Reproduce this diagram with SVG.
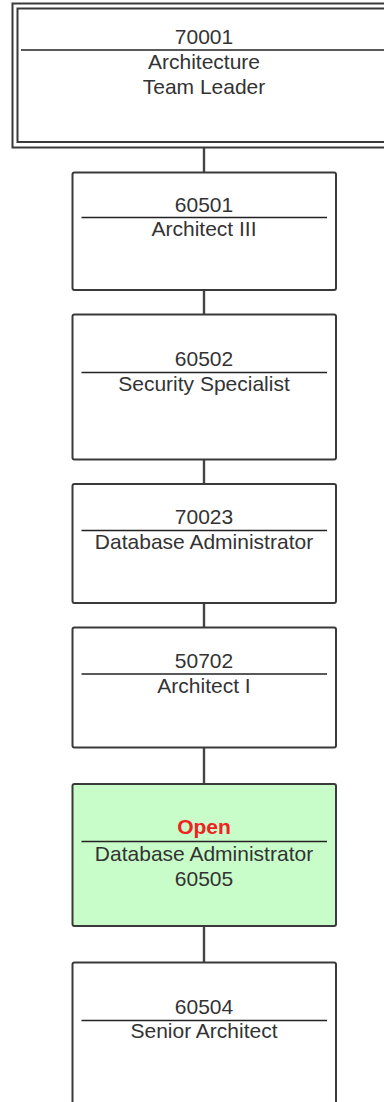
<svg xmlns="http://www.w3.org/2000/svg" width="384" height="1102" viewBox="0 0 384 1102">
<style>
.box{fill:#fff;stroke:#3a3a3a;stroke-width:2}
.green{fill:#c8fcc8}
.div{stroke:#222;stroke-width:1.6}
.con{stroke:#444;stroke-width:2.4;fill:none}
text{font-family:"Liberation Sans",Arial,sans-serif;font-size:21px;fill:#333;text-anchor:middle}
.open{fill:#ee2222;font-weight:bold}
</style>
<rect width="384" height="1102" fill="#fff"/>
<g id="connectors">
<line class="con" x1="204" y1="147" x2="204" y2="173"/>
<line class="con" x1="204" y1="290" x2="204" y2="315"/>
<line class="con" x1="204" y1="459" x2="204" y2="485"/>
<line class="con" x1="204" y1="603" x2="204" y2="628"/>
<line class="con" x1="204" y1="747" x2="204" y2="785"/>
<line class="con" x1="204" y1="926" x2="204" y2="963"/>
</g>
<g id="n70001">
<rect x="12.5" y="3.5" width="400" height="144" fill="#fff" stroke="#3a3a3a" stroke-width="2"/>
<rect x="17.5" y="8.5" width="390" height="133.5" fill="none" stroke="#3a3a3a" stroke-width="2"/>
<line class="div" x1="21" y1="50" x2="400" y2="50"/>
<text x="204" y="44">70001</text>
<text x="204" y="69">Architecture</text>
<text x="204" y="94">Team Leader</text>
</g>
<g id="n60501">
<rect class="box" x="72.5" y="172.5" width="263.5" height="117.5" rx="2"/>
<line class="div" x1="81.5" y1="217.5" x2="327" y2="217.5"/>
<text x="204" y="211.5">60501</text>
<text x="204" y="236">Architect III</text>
</g>
<g id="n60502">
<rect class="box" x="72.5" y="314.5" width="263.5" height="145" rx="2"/>
<line class="div" x1="81.5" y1="372.5" x2="327" y2="372.5"/>
<text x="204" y="366">60502</text>
<text x="204" y="390.5">Security Specialist</text>
</g>
<g id="n70023">
<rect class="box" x="72.5" y="484" width="263.5" height="119" rx="2"/>
<line class="div" x1="81.5" y1="530.5" x2="327" y2="530.5"/>
<text x="204" y="523.5">70023</text>
<text x="204" y="549">Database Administrator</text>
</g>
<g id="n50702">
<rect class="box" x="72.5" y="627.5" width="263.5" height="120" rx="2"/>
<line class="div" x1="81.5" y1="674" x2="327" y2="674"/>
<text x="204" y="667.5">50702</text>
<text x="204" y="693">Architect I</text>
</g>
<g id="nOpen">
<rect class="box green" x="72.5" y="784" width="263.5" height="142" rx="2"/>
<line class="div" x1="81.5" y1="841.5" x2="327" y2="841.5"/>
<text class="open" x="204" y="834">Open</text>
<text x="204" y="861">Database Administrator</text>
<text x="204" y="885.5">60505</text>
</g>
<g id="n60504">
<rect class="box" x="72.5" y="962.5" width="263.5" height="150" rx="2"/>
<line class="div" x1="81.5" y1="1020.5" x2="327" y2="1020.5"/>
<text x="204" y="1013.5">60504</text>
<text x="204" y="1038">Senior Architect</text>
</g>
</svg>
